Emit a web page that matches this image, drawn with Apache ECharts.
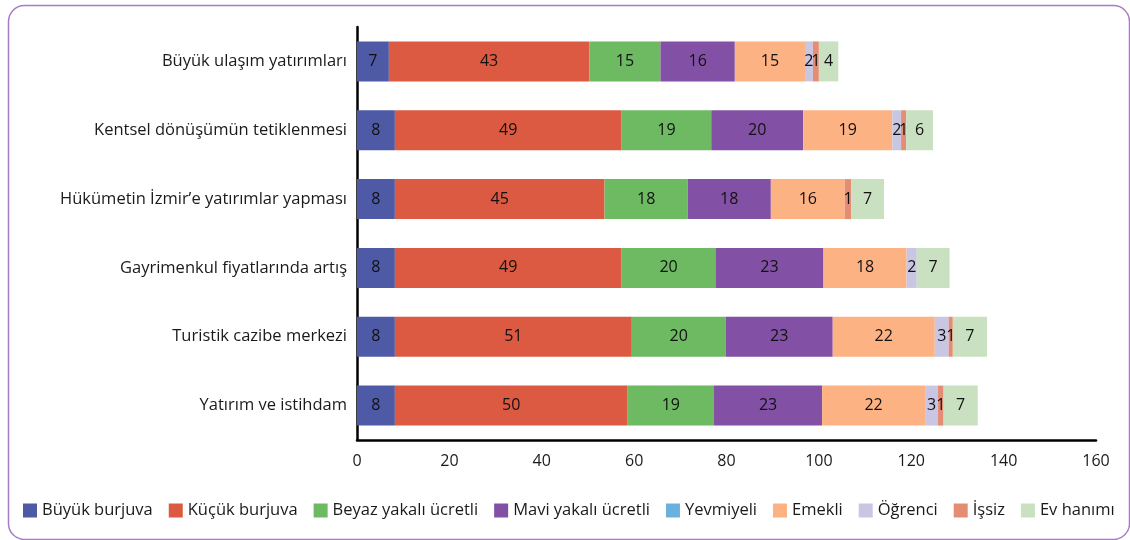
<!DOCTYPE html>
<html><head><meta charset="utf-8">
<script src="https://cdn.jsdelivr.net/npm/echarts@6/dist/echarts.min.js"></script>
<style>html,body{margin:0;padding:0;background:#fff}#c{width:1130px;height:540px}</style>
</head><body><div id="c"></div>
<script>
const categories = ["Büyük ulaşım yatırımları","Kentsel dönüşümün tetiklenmesi","Hükümetin İzmir’e yatırımlar yapması","Gayrimenkul fiyatlarında artış","Turistik cazibe merkezi","Yatırım ve istihdam"];
const seriesNames = ["Büyük burjuva","Küçük burjuva","Beyaz yakalı ücretli","Mavi yakalı ücretli","Yevmiyeli","Emekli","Öğrenci","İşsiz","Ev hanımı"];
const buyukBurjuva = [6.9,8.2,8.2,8.2,8.2,8.2];
const kucukBurjuva = [43.4,49.1,45.4,49.1,51.3,50.4];
const beyazYakali = [15.4,19.4,18.0,20.3,20.3,18.7];
const maviYakali = [16.1,19.9,18.0,23.4,23.2,23.4];
const yevmiyeli = [0,0,0,0,0,0];
const emekli = [15.2,19.3,16.0,18.0,22.1,22.3];
const ogrenci = [1.7,1.9,0,2.2,3.0,2.8];
const issiz = [1.3,1.1,1.4,0,0.9,1.2];
const evHanimi = [4.2,5.8,7.1,7.1,7.4,7.4];
const xTicks = [0,20,40,60,80,100,120,140,160];
const colors = ["#4E5AA5","#DC5A42","#6DBA62","#8250A5","#6AB2DD","#FDB284","#C8C6E2","#E58C74","#C9E1C1"];
const values = [buyukBurjuva,kucukBurjuva,beyazYakali,maviYakali,yevmiyeli,emekli,ogrenci,issiz,evHanimi];
const font = "Open Sans";
const chart = echarts.init(document.getElementById('c'));
chart.setOption({
  animation:false,
  color:colors,
  graphic:[{type:'rect',left:6,top:3,shape:{width:1121,height:534,r:16},style:{fill:'none',stroke:'#A67DC3',lineWidth:1.5},silent:true}],
  grid:{left:357,right:34,top:27,bottom:100},
  legend:{bottom:16,left:18,itemWidth:14,itemHeight:14,itemGap:16,icon:'rect',
    textStyle:{fontFamily:font,fontSize:16.5,color:'#1a1a1a'},data:seriesNames},
  xAxis:{type:'value',min:0,max:160,interval:20,
    axisLine:{show:true,lineStyle:{color:'#000',width:2.5}},axisTick:{show:false},splitLine:{show:false},
    axisLabel:{fontFamily:font,fontSize:16,color:'#1a1a1a',margin:13,formatter:v=>xTicks.includes(v)?String(v):''}},
  yAxis:{type:'category',data:categories,inverse:true,
    axisLine:{show:true,lineStyle:{color:'#000',width:2.5}},axisTick:{show:false},
    axisLabel:{fontFamily:font,fontSize:16.5,color:'#1a1a1a',margin:10,padding:[0,0,5,0]}},
  series:seriesNames.map((n,i)=>({name:n,type:'bar',stack:'t',barWidth:40,data:values[i],
    label:{show:true,position:'inside',fontFamily:font,fontSize:16,color:'#111',
      formatter:p=>p.value>0?String(Math.round(p.value)):''}}))
});
</script></body></html>
